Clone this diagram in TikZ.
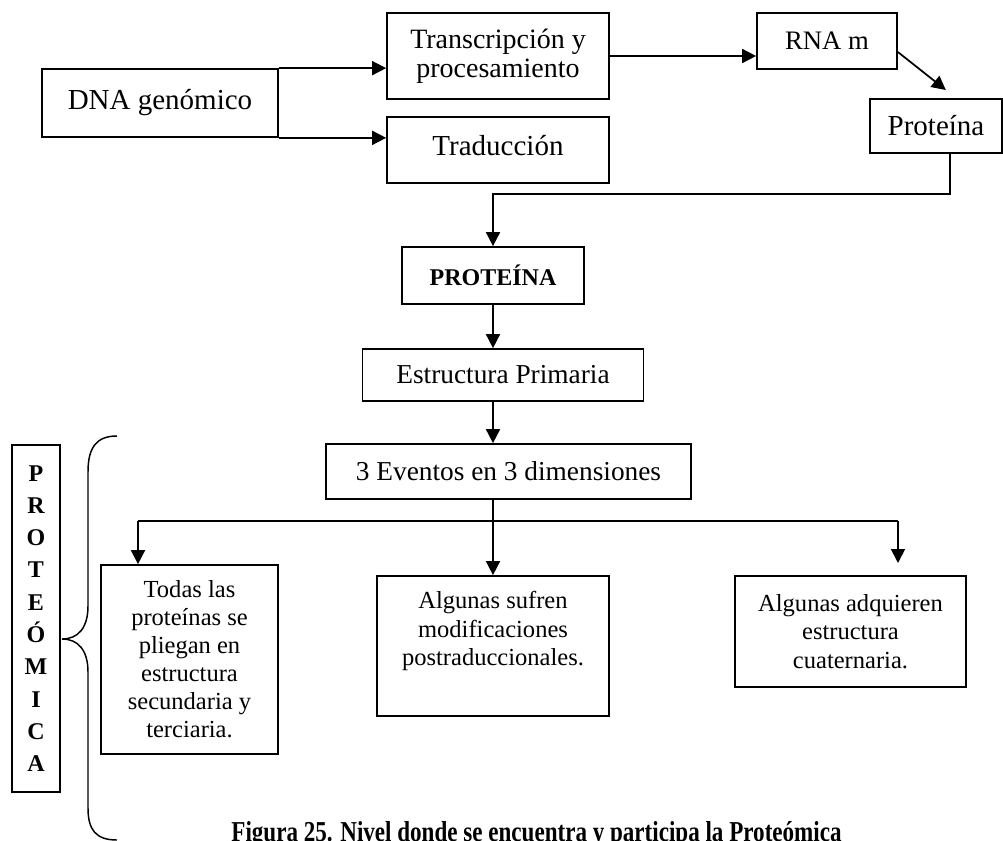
\documentclass[tikz,border=0pt]{standalone}
\usepackage{fontspec}
\setmainfont{Liberation Serif}
\usepackage{graphicx}
\usetikzlibrary{arrows.meta,calc}
\newcommand\fsz[2]{\fontsize{#1}{#2}\selectfont}
\tikzset{
  box/.style={draw, line width=1.3pt, inner sep=0pt, align=center},
  conn/.style={line width=1.3pt},
  arr/.style={conn, -{Triangle[length=10.5pt,width=10.5pt]}},
  brace/.style={line width=1.1pt},
}
\begin{document}
\begin{tikzpicture}[x=0.75pt,y=-0.75pt]
\useasboundingbox (0,0) rectangle (1003,840);

% top row
\node[box, minimum width=177pt, minimum height=51pt, font=\fsz{21.75}{26}] (dna) at (160,103) {DNA genómico};
\node[box, minimum width=166.5pt, minimum height=64.5pt, font=\fsz{21}{21.75}] (trans) at (498,56) {Transcripción y\\procesamiento};
\node[box, minimum width=166.5pt, minimum height=49.5pt] (trad) at (498,150) {};
\node[inner sep=0pt, font=\fsz{21.75}{26}] (tradt) at (498,146) {Traducción};
\node[box, minimum width=105pt, minimum height=42pt, font=\fsz{20}{24}] (rna) at (827,41) {RNA m};
\node[box, minimum width=99pt, minimum height=40.5pt, font=\fsz{21.75}{26}] (prot) at (936,126) {Proteína};

% middle column
\node[box, minimum width=136.5pt, minimum height=42.75pt, font=\bfseries\fsz{18}{22}] (P) at (493,275.5) {PROTEÍNA};
\node[box, minimum width=210.75pt, minimum height=39pt, font=\fsz{20.5}{24}] (estr) at (503,375) {Estructura Primaria};
\node[box, minimum width=273.75pt, minimum height=41.25pt, font=\fsz{20.5}{24}] (ev) at (508.5,471.5) {3 Eventos en 3 dimensiones};

% bottom boxes
\node[box, minimum width=132.75pt, minimum height=141.75pt, font=\fsz{18.4}{21}] (b1) at (189.5,659.5) {Todas las\\proteínas se\\pliegan en\\estructura\\secundaria y\\terciaria.};
\node[box, minimum width=174pt, minimum height=105pt] (b2) at (493,646) {};
\node[align=center, inner sep=0pt, font=\fsz{18.4}{21.4}] (b2t) at (493,631) {Algunas sufren\\modificaciones\\postraduccionales.};
\node[box, minimum width=173.25pt, minimum height=83.25pt, font=\fsz{18.4}{21.4}] (b3) at (850.5,631.5) {Algunas adquieren\\estructura\\cuaternaria.};

% side label
\node[box, minimum width=36pt, minimum height=260.25pt, font=\bfseries\fsz{18}{24.2}] (prm) at (36,618.5) {P\\R\\O\\T\\E\\Ó\\M\\I\\C\\A};

% caption
\node[anchor=base, inner sep=0pt, font=\bfseries\fsz{17.3}{20}] (cap) at (536.5,841) {\scalebox{1}[1.25]{Figura 25. Nivel donde se encuentra y participa la Proteómica}};

% connectors
\draw[arr] (dna.north east) -- (dna.north east -| trans.west);
\draw[arr] (dna.south east) -- (dna.south east -| trad.west);
\draw[arr] (trans.east) -- (trans.east -| rna.west);
\draw[arr] ($(rna.east)+(0,11)$) -- ++(48,38);
\draw[arr] ($(prot.south)+(14,0)$) -- ++(0,40) -| (P.north);
\draw[arr] (P.south) -- (P.south |- estr.north);
\draw[arr] (P.south |- estr.south) -- (P.south |- ev.north);
\draw[arr] (b2.north |- ev.south) -- (b2.north);
\coordinate (bl) at (138,521);
\coordinate (br) at (898,521);
\draw[conn] (bl) -- (br);
\draw[arr] (bl) -- (bl |- b1.north);
\draw[arr] (br) -- ++(0,42);

% brace
\draw[brace] (117,436) .. controls (96,436) and (88,448) .. (88,472) -- (88,606)
  .. controls (88,628) and (78,639) .. (62,639)
  .. controls (78,639) and (88,650) .. (88,672) -- (88,808)
  .. controls (88,830) and (96,840) .. (117,840);
\end{tikzpicture}
\end{document}
